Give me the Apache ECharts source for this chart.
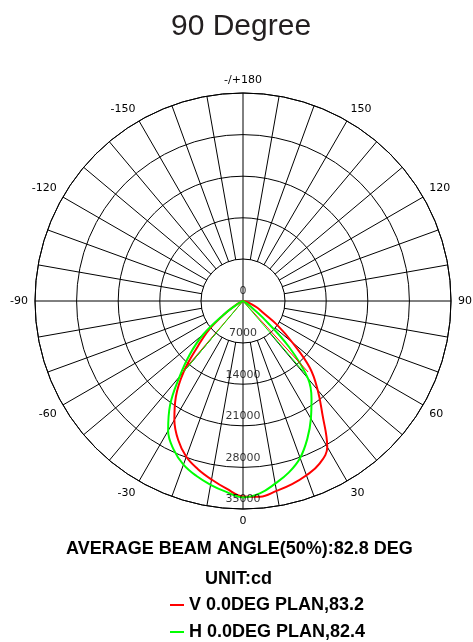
<!DOCTYPE html>
<html>
<head>
<meta charset="utf-8">
<script src="https://cdn.jsdelivr.net/npm/echarts@6/dist/echarts.min.js"></script>
<style>
  html, body { margin: 0; padding: 0; background: #fff; }
  #chart { width: 473px; height: 642px; }
</style>
</head>
<body>
<div id="chart"></div>
<script>
// 配光曲线 (polar candela plot)
const angles = [-90, -85, -80, -75, -70, -65, -60, -55, -50, -45, -40, -35, -30, -25, -20, -15, -10, -5,
	0, 5, 10, 15, 20, 25, 30, 35, 40, 45, 50, 55, 60, 65, 70, 75, 80, 85, 90]
const vPlane = [0, 0, 0, 100, 250, 600, 1500, 3600, 7400, 10700, 15500, 19700, 23100, 25800, 27900, 29300, 30500, 31700,
	32880, 33050, 32450, 31900, 31200, 30300, 28350, 23300, 19550, 15900, 10800, 7000, 3800, 2600, 1500, 600, 150, 0, 0]
const hPlane = [0, 0, 0, 100, 200, 500, 1200, 4000, 8700, 12600, 16600, 21400, 25200, 27600, 29300, 30450, 31400, 32250,
	33050, 32500, 31200, 29850, 28100, 25600, 22850, 20100, 17000, 11000, 4300, 1200, 400, 150, 50, 0, 0, 0, 0]
// thin chords from the centre
const vChord = [[15500, -40.5], [0, 0], [16200, 42.5]]
const hChord = [[15500, -40], [0, 0], [15600, 40.5]]
const radiusTicks = [0, 7000, 14000, 21000, 28000, 35000]
const names = ['V 0.0DEG PLAN,83.2', 'H 0.0DEG PLAN,82.4']

const pair = vals => vals.map((v, i) => [v, angles[i]])
const font = 'DejaVu Sans'
const boldText = { fontSize: 18, fontWeight: 'bold', color: '#000', fontFamily: 'Liberation Sans' }

echarts.init(document.getElementById('chart')).setOption({
	animation: false,
	title: [
		{ text: '90 Degree', left: 166, top: 7, textStyle: { fontSize: 30, fontWeight: 'normal', color: '#231f20', fontFamily: 'Liberation Sans' } },
		{ text: 'AVERAGE BEAM ANGLE(50%):82.8 DEG', left: 66, top: 540, padding: 0, textStyle: boldText },
		{ text: 'UNIT:cd', left: 205, top: 570, padding: 0, textStyle: boldText }
	],
	legend: {
		orient: 'vertical',
		left: 170,
		top: 596,
		padding: 0,
		itemGap: 9,
		itemWidth: 14,
		itemHeight: 2,
		icon: 'rect',
		textStyle: boldText,
		data: names
	},
	polar: [
		{ center: [243, 301], radius: 208 },
		{ center: [243, 301], radius: 42 }
	],
	angleAxis: [
		{
			polarIndex: 0,
			type: 'value',
			min: -180,
			max: 180,
			interval: 10,
			startAngle: 90,
			clockwise: false,
			axisLine: { lineStyle: { color: '#000', width: 1 } },
			axisTick: { show: false },
			splitLine: { show: true, lineStyle: { color: '#000', width: 1 } },
			axisLabel: {
				margin: 7,
				fontSize: 11,
				fontFamily: font,
				color: '#000',
				formatter: v => {
					if (v === -180) return '-/+180'
					if (v === 180) return ''
					return v % 30 === 0 ? String(v) : ''
				}
			}
		},
		{
			polarIndex: 1,
			type: 'value',
			min: -180,
			max: 180,
			interval: 90,
			startAngle: 90,
			clockwise: false,
			z: 1.5,
			axisLine: { lineStyle: { color: '#000', width: 1 } },
			axisTick: { show: false },
			axisLabel: { show: false },
			splitLine: { show: true, lineStyle: { color: '#000', width: 1 } }
		}
	],
	radiusAxis: [
		{
			polarIndex: 0,
			min: 0,
			max: 35000,
			interval: 7000,
			axisLine: { show: false },
			axisTick: { show: false },
			axisLabel: { show: false },
			splitLine: { show: true, lineStyle: { color: '#000', width: 1 } }
		},
		{
			polarIndex: 1,
			min: 0,
			max: 1,
			interval: 1,
			z: 1,
			axisLine: { show: false },
			axisTick: { show: false },
			axisLabel: { show: false },
			splitLine: { show: false },
			splitArea: { show: true, areaStyle: { color: ['#fff'] } }
		}
	],
	series: [
		{
			type: 'line',
			name: names[0],
			coordinateSystem: 'polar',
			polarIndex: 0,
			showSymbol: false,
			smooth: 0.4,
			itemStyle: { color: '#ff0000' },
			lineStyle: { color: '#ff0000', width: 2 },
			data: pair(vPlane)
		},
		{
			type: 'line',
			name: names[1],
			coordinateSystem: 'polar',
			polarIndex: 0,
			showSymbol: false,
			smooth: 0.4,
			itemStyle: { color: '#00ff00' },
			lineStyle: { color: '#00ff00', width: 2 },
			data: pair(hPlane)
		},
		{
			type: 'line',
			name: 'vChord',
			coordinateSystem: 'polar',
			polarIndex: 0,
			showSymbol: false,
			lineStyle: { color: '#ff0000', width: 1 },
			data: vChord
		},
		{
			type: 'line',
			name: 'hChord',
			coordinateSystem: 'polar',
			polarIndex: 0,
			showSymbol: false,
			lineStyle: { color: '#00ff00', width: 1 },
			data: hChord
		},
		{
			type: 'scatter',
			name: 'ticks',
			coordinateSystem: 'polar',
			polarIndex: 0,
			symbolSize: 0,
			z: 5,
			label: {
				show: true,
				position: 'top',
				distance: 4,
				fontSize: 11,
				fontFamily: font,
				color: '#000',
				formatter: p => String(p.value[0])
			},
			data: radiusTicks.map(r => [r, 0])
		}
	]
})
</script>
</body>
</html>
